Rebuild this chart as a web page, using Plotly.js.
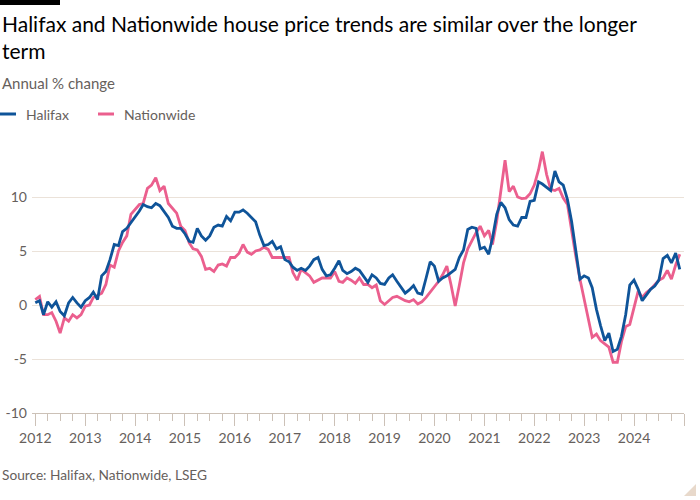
<!DOCTYPE html>
<html>
<head>
<meta charset="utf-8">
<script src="https://cdn.plot.ly/plotly-3.0.1.min.js"></script>
<style>
html,body{margin:0;padding:0;background:#fff;}
#chart{width:700px;height:500px;}
</style>
</head>
<body>
<div id="chart"></div>
<script>
// ---- Data: annual % change, monthly Jan 2012 - Dec 2024 ----
const startYear = 2012;
const monthCount = 156;

const halifax = [
  0.2, 0.4, -0.9, 0.3, -0.2, 0.3, -0.6, -1.0, 0.2, 0.7, 0.2, -0.2,
  0.4, 0.7, 1.2, 0.5, 2.7, 3.1, 4.2, 5.6, 5.5, 6.8, 7.1, 7.6,
  8.1, 8.7, 9.3, 9.1, 9.0, 9.4, 9.2, 8.7, 8.1, 7.3, 7.1, 7.1,
  6.6, 5.9, 5.8, 7.1, 6.4, 6.0, 6.4, 7.2, 7.4, 7.3, 8.2, 7.8,
  8.6, 8.6, 8.8, 8.5, 8.1, 7.7, 6.5, 5.5, 5.6, 5.9, 5.2, 5.4,
  4.2, 4.0, 3.5, 3.2, 3.4, 3.2, 3.6, 4.2, 4.4, 3.3, 2.7, 2.8,
  3.4, 4.1, 3.2, 2.9, 3.1, 3.4, 3.2, 2.6, 2.1, 2.8, 2.5, 2.0,
  1.9, 2.5, 2.8, 2.2, 1.6, 1.1, 1.4, 1.8, 1.1, 1.0, 2.5, 4.0,
  3.6, 2.2, 2.5, 2.7, 3.0, 3.3, 4.4, 5.1, 7.0, 7.2, 7.1, 5.2,
  5.35, 4.7, 6.2, 8.4, 9.5, 9.0, 7.9, 7.4, 7.3, 8.1, 8.1, 9.6,
  9.7, 11.4, 11.2, 10.9, 10.6, 12.4, 11.4, 11.1, 9.75, 7.75, 5.0, 2.4,
  2.7, 2.5, 1.6, -0.4, -1.9, -3.3, -2.6, -4.3, -4.1, -2.9, -0.9, 1.85,
  2.3, 1.45, 0.4, 0.9, 1.45, 1.75, 2.3, 4.3, 4.6, 3.9, 4.8, 3.3
];

const nationwide = [
  0.5, 0.8, -0.9, -0.9, -0.7, -1.5, -2.6, -1.2, -1.5, -0.9, -1.2, -0.9,
  -0.1, 0.0, 0.7, 0.9, 1.1, 1.9, 3.7, 3.5, 5.0, 5.8, 6.4, 8.4,
  8.8, 9.3, 9.4, 10.8, 11.1, 11.8, 10.6, 11.0, 9.4, 9.0, 8.5, 7.3,
  6.9, 5.75, 5.2, 5.1, 4.5, 3.3, 3.4, 3.1, 3.7, 3.8, 3.6, 4.4,
  4.4, 4.8, 5.6, 4.9, 4.7, 5.0, 5.1, 5.35, 5.15, 4.4, 4.4, 4.4,
  4.4, 4.4, 3.0, 2.3, 3.3, 3.0, 2.7, 2.1, 2.3, 2.5, 2.5, 2.5,
  3.1, 2.2, 2.1, 2.5, 2.3, 2.0, 2.5, 1.9, 1.9, 1.6, 1.85, 0.4,
  0.05, 0.4, 0.7, 0.8, 0.6, 0.4, 0.3, 0.5, 0.1, 0.3, 0.7, 1.2,
  1.75, 2.2, 2.8, 3.6, 1.9, -0.1, 1.8, 3.9, 5.2, 6.0, 6.7, 7.3,
  6.4, 6.9, 5.6, 7.75, 10.7, 13.4, 10.5, 11.0, 10.0, 9.85, 9.9, 10.3,
  11.1, 12.5, 14.2, 12.1, 10.7, 10.6, 10.8, 9.9, 9.3, 6.8, 4.5, 2.4,
  0.6, -1.2, -3.0, -2.7, -3.3, -3.6, -3.9, -5.3, -5.3, -3.4, -2.0, -1.8,
  -0.2, 1.3, 0.7, 1.15, 1.45, 1.85, 2.3, 2.5, 3.2, 2.4, 3.7, 4.7
];

const seriesNames = ['Halifax', 'Nationwide'];
const yTickVals = [-10, -5, 0, 5, 10];
const yTickText = ['-10', '-5', '0', '5', '10'];

// month dates
const dates = [];
for (let i = 0; i < monthCount; i++) {
  const y = startYear + Math.floor(i / 12);
  const m = (i % 12) + 1;
  dates.push(y + '-' + String(m).padStart(2, '0') + '-01');
}

// ---- Layout geometry ----
const W = 700, H = 500;
const L = 32, R = 16, T = 143, B = 87;
const PW = W - L - R, PH = H - T - B;
const xp = p => (p - L) / PW;
const yp = p => (H - B - p) / PH;

const blue = '#0f5499';
const pink = '#eb5f8e';
const grey = '#66605c';
const FONT = 'Lato, "Open Sans", sans-serif';

const traces = [
  {x: dates, y: nationwide, name: seriesNames[1], type: 'scatter', mode: 'lines',
   line: {color: pink, width: 2.8}, hoverinfo: 'skip'},
  {x: dates, y: halifax, name: seriesNames[0], type: 'scatter', mode: 'lines',
   line: {color: blue, width: 2.8}, hoverinfo: 'skip'}
];

const layout = {
  width: W, height: H,
  margin: {l: L, r: R, t: T, b: B, pad: 0},
  paper_bgcolor: '#ffffff',
  plot_bgcolor: '#ffffff',
  showlegend: false,
  font: {family: FONT, color: grey, size: 14},
  xaxis: {
    type: 'date',
    range: ['2011-12-08', '2025-01-01'],
    tick0: '2012-01-01', dtick: 'M12', tickformat: '%Y',
    ticks: 'outside', ticklen: 12, tickcolor: '#ccc1b7', tickwidth: 1,
    minor: {dtick: 'M3', tick0: '2012-01-01', ticks: 'outside', ticklen: 7,
            tickcolor: '#ccc1b7', tickwidth: 1, showgrid: false},
    showgrid: false, zeroline: false,
    showline: true, linecolor: '#ccc1b7', linewidth: 1,
    tickfont: {family: FONT, size: 14, color: grey},
    fixedrange: true
  },
  yaxis: {
    range: [-10, 15],
    tickvals: yTickVals, ticktext: yTickText,
    showgrid: true, gridcolor: '#ebe2d9', gridwidth: 1,
    zeroline: false, showline: false, ticks: '',
    ticklabelstandoff: 4,
    tickfont: {family: FONT, size: 14, color: grey},
    fixedrange: true
  },
  shapes: [
    {type: 'rect', xref: 'paper', yref: 'paper', x0: xp(0), x1: xp(60), y0: yp(0), y1: yp(5),
     fillcolor: '#000', line: {width: 0}},
    {type: 'line', xref: 'paper', yref: 'paper', x0: xp(0), x1: xp(16), y0: yp(114), y1: yp(114),
     line: {color: blue, width: 3}},
    {type: 'line', xref: 'paper', yref: 'paper', x0: xp(98), x1: xp(114), y0: yp(114), y1: yp(114),
     line: {color: pink, width: 3}},
    {type: 'path', xref: 'paper', yref: 'paper',
     path: 'M ' + xp(696) + ' ' + yp(484) + ' L ' + xp(696) + ' ' + yp(496) + ' L ' + xp(684) + ' ' + yp(496) + ' Z',
     fillcolor: '#e8d9cb', line: {width: 0}}
  ],
  annotations: [
    {xref: 'paper', yref: 'paper', x: xp(0), y: yp(9), xanchor: 'left', yanchor: 'top',
     text: 'Halifax and Nationwide house price trends are similar over the longer<br>term',
     showarrow: false, align: 'left', font: {family: FONT, size: 21, color: '#000'}},
    {xref: 'paper', yref: 'paper', x: xp(0), y: yp(83), xanchor: 'left', yanchor: 'middle',
     text: 'Annual % change', showarrow: false, font: {family: FONT, size: 15, color: grey}},
    {xref: 'paper', yref: 'paper', x: xp(24), y: yp(114), xanchor: 'left', yanchor: 'middle',
     text: seriesNames[0], showarrow: false, font: {family: FONT, size: 14, color: grey}},
    {xref: 'paper', yref: 'paper', x: xp(122), y: yp(114), xanchor: 'left', yanchor: 'middle',
     text: seriesNames[1], showarrow: false, font: {family: FONT, size: 14, color: grey}},
    {xref: 'paper', yref: 'paper', x: xp(0), y: yp(474), xanchor: 'left', yanchor: 'middle',
     text: 'Source: Halifax, Nationwide, LSEG', showarrow: false, font: {family: FONT, size: 13.7, color: grey}}
  ]
};

Plotly.newPlot('chart', traces, layout, {displayModeBar: false, staticPlot: true});
</script>
</body>
</html>
